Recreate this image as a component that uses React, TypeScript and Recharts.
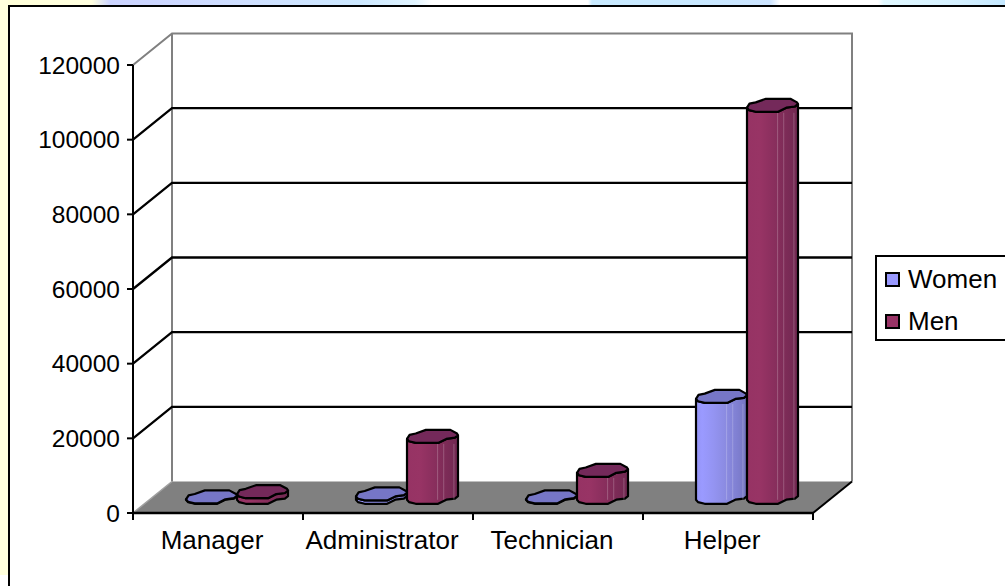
import React from "react";
import { BarChart, Bar, XAxis, YAxis, Legend, ReferenceLine } from "recharts";

const categories = ["Manager", "Administrator", "Technician", "Helper"];
const women = [100, 900, 100, 27000];
const men = [1500, 16300, 7200, 105000];
const yTicks = [0, 20000, 40000, 60000, 80000, 100000, 120000];
const gridValues = [20000, 40000, 60000, 80000, 100000];

const rows = categories.map((name, i) => ({ name, Women: women[i], Men: men[i] }));

const FONT = '"Liberation Sans", Arial, sans-serif';
const WIDTH = 1005;
const HEIGHT = 586;

// Oblique projection of the chart's depth axis
const DEPTH_X = 39;
const DEPTH_Y = 31.5;
const CAP_H = 13;

const PALETTE: Record<string, { id: string; top: string; stops: [number, string][] }> = {
  Women: {
    id: "womenBody",
    top: "#7676c6",
    stops: [
      [0, "#9494f4"],
      [0.12, "#9a9aff"],
      [0.34, "#9494f2"],
      [0.6, "#8a8ae0"],
      [0.8, "#8080d2"],
      [1, "#7474c0"],
    ],
  },
  Men: {
    id: "menBody",
    top: "#74295a",
    stops: [
      [0, "#963364"],
      [0.25, "#983465"],
      [0.5, "#8b2f5e"],
      [0.72, "#7f2c58"],
      [1, "#702851"],
    ],
  },
};

// Outline of the faceted cap: unit coordinates across the bar width and cap height
const capOutline: [number, number][] = [
  [0, 0.69], [0.05, 0.38], [0.17, 0.28], [0.37, 0], [0.85, 0], [0.98, 0.28],
  [1, 0.42], [0.94, 0.6], [0.77, 0.69], [0.61, 1], [0.17, 1], [0.04, 0.87],
];
const frontEdge: [number, number][] = [
  [0, 0.69], [0.04, 0.87], [0.17, 1], [0.61, 1], [0.77, 0.69], [0.94, 0.6], [1, 0.42],
];
const highlights = [0.6, 0.72, 0.92];

function Column(props: any) {
  const { x, y, width, height, dataKey } = props;
  const look = PALETTE[dataKey];
  const left = x + DEPTH_X / 2 - 0.5;
  const topY = y - DEPTH_Y / 2 - CAP_H / 2;
  const rise = Math.max(height, 0);
  const at = (p: [number, number], lift: number) =>
    `${(left + p[0] * width).toFixed(1)},${(topY + lift + p[1] * CAP_H).toFixed(1)}`;
  const body = [
    ...frontEdge.map((p) => at(p, 0)),
    ...[...frontEdge].reverse().map((p) => at(p, rise)),
  ].join(" ");
  const cap = capOutline.map((p) => at(p, 0)).join(" ");
  return (
    <g>
      <polygon points={body} fill={`url(#${look.id})`} stroke="#000" strokeWidth={2.2} strokeLinejoin="round" />
      {rise > 12 &&
        highlights.map((u) => (
          <line
            key={u}
            x1={left + u * width}
            x2={left + u * width}
            y1={topY + CAP_H + 1}
            y2={topY + rise + CAP_H - 4}
            stroke="#fff"
            strokeOpacity={0.22}
            strokeWidth={1}
          />
        ))}
      <polygon points={cap} fill={look.top} stroke="#000" strokeWidth={2.2} strokeLinejoin="round" />
    </g>
  );
}

// Floor of the box, drawn from the zero line
function Floor({ x1, x2, y1 }: any) {
  const pts = [
    [x1, y1], [x1 + DEPTH_X, y1 - DEPTH_Y], [x2 + DEPTH_X, y1 - DEPTH_Y], [x2, y1],
  ].map((p) => p.join(",")).join(" ");
  return (
    <g>
      <polygon points={pts} fill="#808080" />
      <line x1={x1} y1={y1} x2={x1 + DEPTH_X} y2={y1 - DEPTH_Y} stroke="#a0a0a0" strokeWidth={1.5} />
      <line x1={x2} y1={y1} x2={x2 + DEPTH_X} y2={y1 - DEPTH_Y} stroke="#000" strokeWidth={2} />
    </g>
  );
}

// Back and side walls, drawn from the top value of the axis
function Walls({ x1, x2, y1, bottom }: any) {
  const bx = x1 + DEPTH_X;
  const tx = x2 + DEPTH_X;
  const ty = y1 - DEPTH_Y;
  const by = bottom - DEPTH_Y;
  return (
    <g stroke="#808080" strokeWidth={2} fill="none">
      <polyline points={`${x1},${y1} ${bx},${ty} ${tx},${ty} ${tx},${by}`} />
      <line x1={bx} y1={ty} x2={bx} y2={by} />
    </g>
  );
}

function GridLine({ x1, x2, y1 }: any) {
  return (
    <polyline
      points={`${x1},${y1} ${x1 + DEPTH_X},${y1 - DEPTH_Y} ${x2 + DEPTH_X},${y1 - DEPTH_Y}`}
      stroke="#000"
      strokeWidth={2.3}
      fill="none"
    />
  );
}

function CategoryTick({ x, y, payload, index }: any) {
  const half = payload.offset ?? 85;
  return (
    <g>
      <line x1={x - half} x2={x - half} y1={y - 8} y2={y - 1} stroke="#000" strokeWidth={2} />
      {index === categories.length - 1 && (
        <line x1={x + half} x2={x + half} y1={y - 8} y2={y - 1} stroke="#000" strokeWidth={2} />
      )}
      <text x={x - 6} y={y + 28} textAnchor="middle" fontFamily={FONT} fontSize={26} fill="#000">
        {payload.value}
      </text>
    </g>
  );
}

function LegendBox({ payload }: any) {
  return (
    <div
      style={{
        boxSizing: "border-box",
        width: 150,
        height: 86,
        border: "2px solid #000",
        background: "#fff",
        fontFamily: FONT,
        fontSize: 26,
        color: "#000",
      }}
    >
      {(payload ?? []).map((item: any, i: number) => (
        <div
          key={item.value}
          style={{ position: "absolute", left: 10, top: i === 0 ? 10 : 52, height: 28, display: "flex", alignItems: "center" }}
        >
          <span
            style={{
              boxSizing: "border-box",
              display: "inline-block",
              width: 15,
              height: 15,
              border: "2px solid #000",
              background: item.color,
              marginRight: 8,
            }}
          />
          <span>{item.value}</span>
        </div>
      ))}
    </div>
  );
}

const topStrip =
  "linear-gradient(90deg,#ffffd8 0,#ffffe0 92px,#ccd4ff 110px,#ccd6ff 155px,#cfe0ff 250px,#cce8ff 360px,#e0f4ff 415px,#fff 432px,#fff 588px,#c8eaff 592px,#c8e8ff 700px,#cce4ff 770px,#fff 780px,#fff 878px,#e0f8ff 884px,#d4f0ff 960px,#c4e8ff 1005px)";

export default function App() {
  return (
    <div style={{ position: "absolute", left: 0, top: 0, width: WIDTH, height: HEIGHT, overflow: "hidden", background: "#fff" }}>
      <div style={{ position: "absolute", left: 0, top: 0, width: WIDTH, height: 6, background: topStrip }} />
      <div style={{ position: "absolute", left: 0, top: 0, width: 8, height: 575, background: "#ffffdc" }} />
      <div
        style={{
          position: "absolute",
          left: 8,
          top: 5,
          width: WIDTH + 20,
          height: HEIGHT + 20,
          borderLeft: "2px solid #000",
          borderTop: "2px solid #000",
          background: "#fff",
        }}
      />
      <div style={{ position: "absolute", left: 0, top: 0 }}>
        <BarChart
          width={WIDTH}
          height={HEIGHT}
          data={rows}
          margin={{ top: 65, right: 192, bottom: 0, left: 0 }}
          barCategoryGap="20%"
          barGap={0}
        >
          <defs>
            {Object.values(PALETTE).map((look) => (
              <linearGradient key={look.id} id={look.id} x1="0" x2="1" y1="0" y2="0">
                {look.stops.map(([at, color]) => (
                  <stop key={at} offset={at} stopColor={color} />
                ))}
              </linearGradient>
            ))}
          </defs>
          <ReferenceLine zIndex={10} y={120000} shape={(p: any) => <Walls {...p} bottom={513} />} />
          <ReferenceLine zIndex={10} y={0} shape={Floor} />
          {gridValues.map((v) => (
            <ReferenceLine zIndex={10} key={v} y={v} shape={GridLine} />
          ))}
          <XAxis
            dataKey="name"
            height={73}
            axisLine={{ stroke: "#000", strokeWidth: 2.5 }}
            tickLine={false}
            tick={CategoryTick}
            interval={0}
          />
          <YAxis
            width={133}
            domain={[0, 120000]}
            ticks={yTicks}
            axisLine={{ stroke: "#000", strokeWidth: 2 }}
            tickLine={{ stroke: "#000", strokeWidth: 2 }}
            tickSize={6}
            tickMargin={7}
            tick={{ fill: "#000", fontFamily: FONT, fontSize: 24.5 }}
          />
          <Legend
            layout="vertical"
            align="center"
            verticalAlign="middle"
            itemSorter={null}
            content={LegendBox}
            wrapperStyle={{ position: "absolute", left: 875, top: 255, width: 150, height: 86 }}
          />
          <Bar dataKey="Women" fill="#9999ff" shape={Column} isAnimationActive={false} />
          <Bar dataKey="Men" fill="#993366" shape={Column} isAnimationActive={false} />
        </BarChart>
      </div>
    </div>
  );
}
